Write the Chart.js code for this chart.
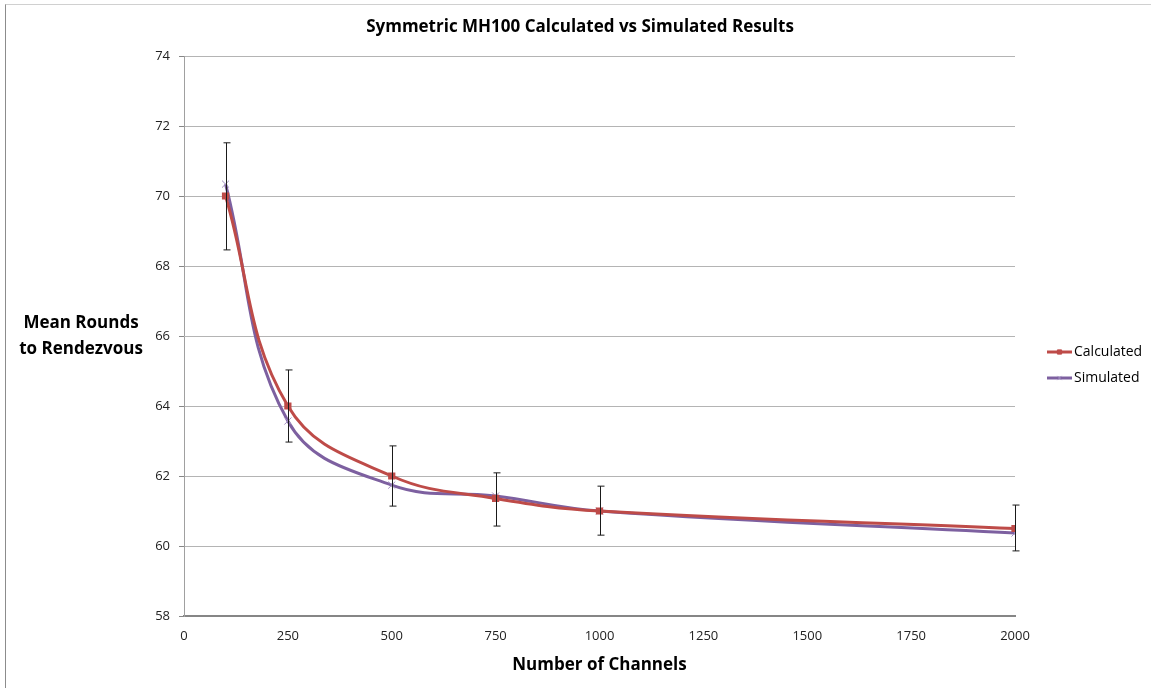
<!DOCTYPE html>
<html>
<head>
<meta charset="utf-8">
<script src="https://cdn.jsdelivr.net/npm/chart.js@4.4.1/dist/chart.umd.min.js"></script>
<style>
    html, body { margin: 0; padding: 0; background: #fff; }
    #wrap { position: relative; width: 1151px; height: 688px; }
    #frame { position: absolute; left: 5px; top: 4px; width: 1160px; height: 700px; border-left: 1px solid #8c8c8c; border-top: 1px solid #d0d0d0; }
</style>
</head>
<body>
<div id="wrap">
    <div id="frame"></div>
    <canvas id="chart" width="1151" height="688"></canvas>
</div>
<script>
// Data
const channels = [100, 250, 500, 750, 1000, 2000];
const calculated = [70.0, 64.0, 62.0, 61.36, 61.0, 60.5];
const simulated = [70.34, 63.57, 61.74, 61.43, 61.0, 60.37];
const simLow = [68.46, 62.97, 61.14, 60.57, 60.31, 59.86];
const simHigh = [71.52, 65.03, 62.86, 62.09, 61.71, 61.17];
const xTicks = [0, 250, 500, 750, 1000, 1250, 1500, 1750, 2000];
const yTicks = [58, 60, 62, 64, 66, 68, 70, 72, 74];

const font = '"Open Sans", "Liberation Sans", sans-serif';
const red = '#be4b48';
const purple = '#7d60a0';

function toPoints(xs, ys) {
    return xs.map((x, i) => ({ x: x, y: ys[i] }));
}

// error bars on the simulated series
const errorBars = {
    id: 'errorBars',
    afterDatasetsDraw(chart) {
        const ctx = chart.ctx;
        const xs = chart.scales.x, ys = chart.scales.y;
        ctx.save();
        ctx.strokeStyle = '#1a1a1a';
        ctx.lineWidth = 1;
        channels.forEach((c, i) => {
            const px = Math.round(xs.getPixelForValue(c)) + 0.5;
            const top = ys.getPixelForValue(simHigh[i]);
            const bot = ys.getPixelForValue(simLow[i]);
            ctx.beginPath();
            ctx.moveTo(px, top); ctx.lineTo(px, bot);
            ctx.moveTo(px - 3, top); ctx.lineTo(px + 4, top);
            ctx.moveTo(px - 3, bot); ctx.lineTo(px + 4, bot);
            ctx.stroke();
        });
        ctx.restore();
    }
};

// horizontal y-axis title, chart title and line+marker legend
const extras = {
    id: 'extras',
    afterDraw(chart) {
        const ctx = chart.ctx;
        ctx.save();
        ctx.fillStyle = '#000';
        ctx.textAlign = 'center';
        ctx.textBaseline = 'middle';
        ctx.font = 'bold 17px ' + font;
        ctx.fillText('Symmetric MH100 Calculated vs Simulated Results', 580, 27);
        ctx.fillText('Mean Rounds', 81, 323);
        ctx.fillText('to Rendezvous', 81, 349);

        ctx.font = '14px ' + font;
        ctx.textAlign = 'left';
        chart.data.datasets.forEach((ds, i) => {
            const y = 352 + i * 26;
            const x0 = 1047;
            ctx.strokeStyle = ds.borderColor;
            ctx.lineWidth = 3;
            ctx.beginPath();
            ctx.moveTo(x0, y); ctx.lineTo(x0 + 25, y);
            ctx.stroke();
            ctx.fillStyle = ds.pointBackgroundColor;
            ctx.strokeStyle = ds.pointBorderColor;
            ctx.lineWidth = 1;
            Chart.helpers.drawPoint(ctx, { pointStyle: ds.pointStyle, radius: 3, borderWidth: 1 }, x0 + 12.5, y);
            ctx.fillStyle = '#000';
            ctx.fillText(ds.label, x0 + 27, y);
        });
        ctx.restore();
    }
};

new Chart(document.getElementById('chart'), {
    type: 'line',
    data: {
        datasets: [{
            label: 'Calculated',
            data: toPoints(channels, calculated),
            borderColor: red,
            borderWidth: 3,
            tension: 0.4,
            pointStyle: 'rect',
            pointRadius: 3,
            pointBackgroundColor: red,
            pointBorderColor: red
        }, {
            label: 'Simulated',
            data: toPoints(channels, simulated),
            borderColor: purple,
            borderWidth: 3,
            tension: 0.4,
            pointStyle: 'crossRot',
            pointRadius: 5,
            pointBorderWidth: 1,
            pointBackgroundColor: '#a08cc0',
            pointBorderColor: '#a08cc0'
        }]
    },
    options: {
        responsive: false,
        animation: false,
        layout: { padding: { top: 56, right: 136, bottom: 0, left: 0 } },
        plugins: {
            legend: { display: false },
            tooltip: { enabled: false },
            title: { display: false }
        },
        scales: {
            x: {
                type: 'linear',
                min: 0,
                max: 2000,
                afterBuildTicks: s => { s.ticks = xTicks.map(v => ({ value: v })); },
                afterFit: s => { s.height = 72; },
                grid: { display: false, drawTicks: false },
                border: { color: '#868686', width: 2 },
                ticks: {
                    color: '#222',
                    font: { family: font, size: 13 },
                    padding: 12,
                    maxRotation: 0,
                    callback: v => String(v)
                },
                title: {
                    display: true,
                    text: 'Number of Channels',
                    color: '#000',
                    font: { family: font, size: 17, weight: 'bold' },
                    padding: { top: 6, bottom: 13 }
                }
            },
            y: {
                min: 58,
                max: 74,
                afterBuildTicks: s => { s.ticks = yTicks.map(v => ({ value: v })); },
                afterFit: s => { s.width = 184; },
                grid: { color: '#b4b4b4', lineWidth: 1, tickLength: 5, tickColor: '#868686' },
                border: { color: '#a0a0a0', width: 1 },
                ticks: { color: '#222', font: { family: font, size: 13 }, padding: 9 }
            }
        }
    },
    plugins: [errorBars, extras]
});
</script>
</body>
</html>
